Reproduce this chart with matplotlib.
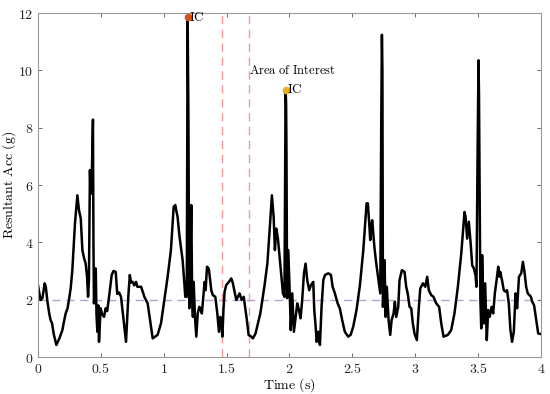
import numpy as np
import matplotlib.pyplot as plt

# computer modern look via mathtext
plt.rcParams['mathtext.fontset'] = 'cm'
plt.rcParams['font.size'] = 10

# resultant acceleration trace (time in s, acc in g)
time_s = [
    0.000, 0.020, 0.035, 0.053, 0.062, 0.075, 0.090, 0.100, 0.112, 0.125,
    0.146, 0.170, 0.194, 0.205, 0.220, 0.235, 0.246, 0.260, 0.273, 0.294,
    0.313, 0.326, 0.340, 0.353, 0.366, 0.379, 0.390, 0.398, 0.405, 0.413,
    0.418, 0.425, 0.437, 0.441, 0.445, 0.459, 0.465, 0.472, 0.480, 0.485,
    0.498, 0.510, 0.525, 0.538, 0.550, 0.565, 0.586, 0.600, 0.618, 0.630,
    0.645, 0.660, 0.681, 0.700, 0.718, 0.730, 0.740, 0.753, 0.765, 0.780,
    0.790, 0.820, 0.846, 0.872, 0.898, 0.912, 0.935, 0.951, 0.978, 1.005,
    1.031, 1.057, 1.079, 1.092, 1.100, 1.110, 1.124, 1.150, 1.164, 1.171,
    1.183, 1.190, 1.196, 1.203, 1.206, 1.219, 1.226, 1.232, 1.238, 1.248,
    1.259, 1.270, 1.283, 1.290, 1.303, 1.317, 1.325, 1.333, 1.344, 1.355,
    1.360, 1.378, 1.390, 1.410, 1.426, 1.439, 1.450, 1.458, 1.466, 1.476,
    1.484, 1.497, 1.518, 1.537, 1.550, 1.563, 1.577, 1.590, 1.603, 1.620,
    1.636, 1.647, 1.661, 1.675, 1.696, 1.709, 1.730, 1.749, 1.768, 1.784,
    1.802, 1.824, 1.842, 1.860, 1.874, 1.884, 1.895, 1.908, 1.921, 1.935,
    1.948, 1.960, 1.969, 1.973, 1.976, 1.981, 1.990, 2.003, 2.010, 2.022,
    2.035, 2.049, 2.062, 2.075, 2.088, 2.101, 2.115, 2.128, 2.141, 2.157,
    2.171, 2.189, 2.197, 2.208, 2.216, 2.229, 2.242, 2.255, 2.269, 2.282,
    2.308, 2.330, 2.343, 2.361, 2.383, 2.400, 2.419, 2.440, 2.467, 2.486,
    2.507, 2.533, 2.560, 2.587, 2.613, 2.623, 2.635, 2.642, 2.650, 2.658,
    2.675, 2.690, 2.711, 2.722, 2.730, 2.735, 2.739, 2.743, 2.756, 2.764,
    2.774, 2.788, 2.801, 2.812, 2.828, 2.838, 2.849, 2.865, 2.875, 2.894,
    2.915, 2.928, 2.940, 2.955, 2.968, 2.981, 2.994, 3.013, 3.029, 3.040,
    3.061, 3.080, 3.095, 3.108, 3.127, 3.145, 3.167, 3.190, 3.207, 3.225,
    3.259, 3.286, 3.312, 3.339, 3.366, 3.392, 3.400, 3.413, 3.426, 3.440,
    3.453, 3.466, 3.479, 3.487, 3.495, 3.503, 3.507, 3.512, 3.518, 3.525,
    3.532, 3.545, 3.556, 3.569, 3.580, 3.592, 3.607, 3.620, 3.633, 3.647,
    3.660, 3.670, 3.676, 3.690, 3.704, 3.717, 3.730, 3.744, 3.757, 3.770,
    3.784, 3.798, 3.810, 3.825, 3.843, 3.856, 3.869, 3.882, 3.895, 3.920,
    3.930, 3.945, 3.962, 3.978, 4.000,
]
acc_g = [
    2.50, 1.99, 2.05, 2.57, 2.45, 1.93, 1.50, 1.29, 1.17, 0.80,
    0.42, 0.65, 0.94, 1.20, 1.52, 1.70, 1.99, 2.40, 3.03, 4.66,
    5.64, 5.12, 4.83, 3.73, 3.45, 3.26, 2.80, 2.10, 2.68, 6.52,
    5.70, 5.70, 8.28, 4.00, 1.87, 3.09, 1.50, 0.88, 1.80, 0.53,
    1.70, 1.50, 1.40, 1.70, 1.60, 2.10, 2.86, 3.00, 2.97, 2.20,
    2.25, 2.10, 1.29, 0.53, 2.10, 2.86, 2.60, 2.62, 2.50, 2.62,
    2.45, 2.45, 2.10, 1.87, 1.06, 0.65, 0.72, 0.77, 1.17, 1.99,
    2.80, 3.73, 5.24, 5.30, 5.10, 4.89, 4.25, 3.38, 2.57, 2.10,
    2.10, 11.85, 8.40, 1.70, 1.75, 5.30, 2.00, 1.40, 2.62, 1.40,
    0.71, 1.52, 1.75, 1.70, 1.52, 2.22, 2.62, 2.33, 3.15, 3.10,
    3.03, 2.33, 2.16, 2.10, 1.52, 0.88, 1.40, 1.17, 0.71, 1.75,
    2.28, 2.51, 2.62, 2.74, 2.57, 2.28, 1.99, 2.10, 2.22, 1.99,
    2.10, 1.75, 1.29, 0.77, 0.71, 0.65, 0.82, 1.17, 1.52, 1.99,
    2.51, 3.26, 4.42, 5.64, 4.89, 3.73, 4.48, 4.13, 3.50, 2.80,
    2.22, 2.10, 9.33, 8.84, 7.15, 2.05, 3.73, 2.10, 0.94, 2.22,
    0.88, 1.40, 1.87, 1.64, 1.35, 1.99, 2.92, 3.26, 2.68, 2.33,
    2.51, 2.62, 1.64, 1.06, 0.53, 0.88, 0.42, 1.75, 2.68, 2.86,
    2.92, 2.86, 2.45, 2.22, 1.87, 1.70, 1.29, 0.88, 0.71, 0.77,
    1.06, 1.64, 2.50, 3.73, 5.36, 5.36, 4.60, 4.08, 4.60, 4.77,
    3.84, 3.26, 2.57, 2.22, 8.43, 11.24, 10.00, 1.75, 3.38, 1.40,
    2.45, 1.29, 0.77, 1.29, 1.52, 1.93, 1.40, 1.75, 2.68, 3.03,
    2.97, 2.45, 2.22, 1.75, 1.70, 1.17, 0.82, 0.59, 1.75, 2.39,
    2.57, 2.45, 2.80, 2.33, 2.16, 2.10, 1.87, 1.75, 1.17, 0.71,
    0.77, 0.94, 1.52, 2.45, 3.61, 5.06, 4.89, 4.13, 4.72, 4.01,
    3.20, 3.09, 2.86, 2.45, 6.69, 10.35, 9.19, 6.00, 2.00, 1.00,
    3.55, 1.17, 2.57, 0.59, 1.64, 1.40, 1.75, 1.52, 2.22, 2.68,
    3.15, 2.80, 2.97, 2.68, 2.33, 2.28, 2.33, 1.87, 0.94, 0.53,
    0.88, 2.22, 1.70, 2.80, 2.92, 3.32, 2.97, 2.45, 2.22, 2.10,
    1.93, 1.81, 1.29, 0.82, 0.80,
]

threshold = 2.0
window = [1.463, 1.675]
ic_first = (1.190, 11.85)
ic_second = (1.969, 9.33)

fig = plt.figure(figsize=(5.5, 3.94), dpi=100)
ax = fig.add_axes([0.0691, 0.0939, 0.9145, 0.8731])

ax.axhline(threshold, color='#b9a0cc', linestyle=(0, (6, 4)), linewidth=1.0, zorder=1)
for x in window:
    ax.axvline(x, color='#f39a9a', linestyle=(0, (6, 4)), linewidth=1.0, zorder=1)

ax.plot(time_s, acc_g, color='black', linewidth=1.8, zorder=2)

ax.plot(*ic_first, 'o', color='#D95319', markersize=4.5, zorder=3)
ax.plot(*ic_second, 'o', color='#EDB120', markersize=4.5, zorder=3)
ax.text(ic_first[0] + 0.012, ic_first[1], r'$\mathrm{IC}$', va='center', ha='left', fontsize=9.5)
ax.text(ic_second[0] + 0.012, ic_second[1], r'$\mathrm{IC}$', va='center', ha='left', fontsize=9.5)
ax.text(1.68, 10.0, r'$\mathrm{Area\ of\ Interest}$', va='center', ha='left', fontsize=9)

ax.set_xlim(0, 4)
ax.set_ylim(0, 12)
xt = [0, 0.5, 1, 1.5, 2, 2.5, 3, 3.5, 4]
yt = [0, 2, 4, 6, 8, 10, 12]
ax.set_xticks(xt)
ax.set_xticklabels(['$%g$' % v for v in xt])
ax.set_yticks(yt)
ax.set_yticklabels(['$%g$' % v for v in yt])
ax.tick_params(direction='in', length=3, width=0.6, color='#555555',
               top=True, right=True, labelsize=10, labelcolor='#262626')
for s in ax.spines.values():
    s.set_color('#999999')
    s.set_linewidth(0.8)

ax.set_xlabel(r'$\mathrm{Time\ (s)}$', fontsize=10)
ax.set_ylabel(r'$\mathrm{Resultant\ Acc\ (g)}$', fontsize=10)
ax.xaxis.set_label_coords(0.5, -0.055)
ax.yaxis.set_label_coords(-0.040, 0.5)

fig.savefig('out.png', dpi=100)
